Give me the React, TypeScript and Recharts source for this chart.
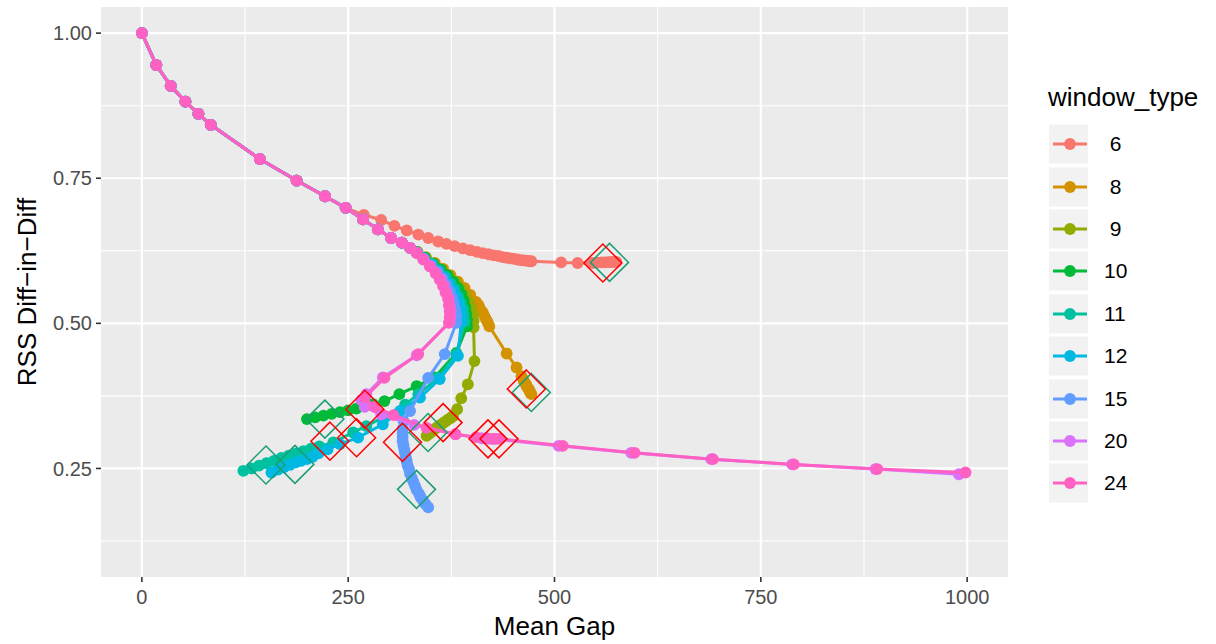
import { ScatterChart, Scatter, XAxis, YAxis, CartesianGrid, Label } from "recharts"

type Pt = [number, number]

const windowTypes = [" 6", " 8", " 9", "10", "11", "12", "15", "20", "24"]
const colors = ["#F8766D", "#D39200", "#93AA00", "#00BA38", "#00C19F", "#00B9E3", "#619CFF", "#DB72FB", "#FF61C3"]

// path every window type shares before they split
const sharedHead: Pt[] = [
  [0, 1.0], [17.5, 0.945], [35, 0.909], [52.8, 0.882], [68.5, 0.861], [83.5, 0.842],
  [143, 0.783], [187.5, 0.746], [222, 0.719], [247, 0.699],
]

const win6: Pt[] = [
  [269, 0.687], [290, 0.678], [306, 0.668], [321, 0.66], [335, 0.653], [347, 0.647], [359, 0.641],
  [369, 0.637], [379, 0.633], [389, 0.629], [398, 0.626], [406, 0.623], [413, 0.621], [420, 0.619],
  [426, 0.617], [432, 0.616], [437, 0.614], [442, 0.613], [447, 0.612], [451, 0.611], [455, 0.61],
  [459, 0.609], [462, 0.6085], [465, 0.608], [468, 0.6075], [470, 0.607], [472, 0.607],
  [508, 0.605], [528, 0.604], [546, 0.604], [552, 0.6045], [557, 0.605], [561, 0.605],
  [565, 0.6055], [568, 0.6055], [571, 0.606], [573, 0.606], [575, 0.606],
]

const win8: Pt[] = [
  [268, 0.679], [286, 0.662], [302, 0.647], [315, 0.639], [325, 0.63],
  [334, 0.623], [344, 0.614], [355, 0.604], [365, 0.594], [374, 0.583], [383, 0.572], [391, 0.561],
  [398, 0.549], [405, 0.537], [408, 0.531], [410, 0.525], [413, 0.519], [415, 0.513], [417, 0.507],
  [419, 0.502], [421, 0.495],
  [442, 0.448], [454, 0.424], [460, 0.409], [462, 0.404], [463, 0.4], [465, 0.396], [466, 0.393],
  [467, 0.39], [469, 0.386], [470, 0.383], [471, 0.38], [472, 0.378],
]

const win9: Pt[] = [
  [268, 0.679], [286, 0.662], [302, 0.647], [315, 0.639], [325, 0.63],
  [334, 0.623], [344, 0.613], [354, 0.603], [363, 0.593], [372, 0.582], [380, 0.571], [387, 0.559],
  [392, 0.548], [396, 0.537], [399, 0.526], [401, 0.515], [402, 0.504], [402, 0.493],
  [403, 0.435], [395, 0.395], [387, 0.371], [382, 0.352], [377, 0.34], [374, 0.337], [371, 0.334],
  [368, 0.331], [365, 0.328], [362, 0.325], [359, 0.322], [356, 0.319], [353, 0.316], [350, 0.312],
  [347, 0.309], [345, 0.306],
]

const win10: Pt[] = [
  [268, 0.679], [286, 0.662], [302, 0.647], [315, 0.639], [325, 0.63],
  [333, 0.623], [343, 0.613], [353, 0.603], [362, 0.593], [370, 0.583], [377, 0.572], [383, 0.561],
  [387, 0.55], [390, 0.539], [392, 0.528], [393, 0.517], [394, 0.506], [394, 0.495],
  [381, 0.449], [355, 0.407], [333, 0.392], [312, 0.378], [294, 0.366], [280, 0.361], [270, 0.357],
  [260, 0.353], [250, 0.35], [240, 0.347], [230, 0.344], [220, 0.341], [210, 0.338], [200, 0.335],
]

const win11: Pt[] = [
  [268, 0.679], [286, 0.662], [302, 0.647], [315, 0.639], [325, 0.63],
  [333, 0.622], [342, 0.612], [352, 0.602], [360, 0.591], [368, 0.58], [374, 0.569], [379, 0.558],
  [383, 0.547], [386, 0.536], [389, 0.525], [390, 0.514], [391, 0.503],
  [381, 0.447], [359, 0.406], [335, 0.378], [319, 0.36], [292, 0.338], [272, 0.323], [256, 0.312],
  [232, 0.295], [215, 0.288], [205, 0.284], [196, 0.28], [187, 0.276], [178, 0.272], [169, 0.268],
  [160, 0.263], [151, 0.259], [142, 0.255], [133, 0.25], [123, 0.246],
]

const win12: Pt[] = [
  [268, 0.679], [286, 0.662], [302, 0.647], [315, 0.639], [325, 0.63],
  [333, 0.622], [342, 0.612], [351, 0.601], [359, 0.59], [366, 0.579], [372, 0.568], [377, 0.557],
  [381, 0.546], [384, 0.535], [386, 0.524], [387, 0.513], [387, 0.502],
  [383, 0.444], [361, 0.404], [337, 0.372], [313, 0.349], [292, 0.326], [262, 0.303], [240, 0.292],
  [225, 0.283], [214, 0.276], [207, 0.27], [200, 0.266], [193, 0.263], [186, 0.26], [179, 0.256],
  [172, 0.252], [165, 0.248], [157, 0.243],
]

const win15: Pt[] = [
  [268, 0.679], [286, 0.662], [302, 0.647], [315, 0.639], [325, 0.63],
  [333, 0.622], [342, 0.611], [350, 0.6], [358, 0.589], [364, 0.578], [369, 0.567], [373, 0.556],
  [376, 0.545], [378, 0.534], [380, 0.523], [381, 0.512], [381, 0.501],
  [367, 0.447], [347, 0.406], [325, 0.349], [317, 0.332], [316, 0.318], [316, 0.311], [316, 0.304],
  [316, 0.297], [317, 0.29], [318, 0.283], [319, 0.276], [320, 0.269], [321, 0.262], [322, 0.255],
  [324, 0.248], [325, 0.241], [327, 0.234], [329, 0.227], [331, 0.22], [333, 0.213], [336, 0.206],
  [338, 0.2], [341, 0.194], [344, 0.188], [347, 0.183],
]

const win20: Pt[] = [
  [268, 0.679], [286, 0.662], [302, 0.647], [315, 0.639], [325, 0.63],
  [333, 0.622], [341, 0.611], [349, 0.599], [356, 0.587], [362, 0.576], [366, 0.565], [369, 0.554],
  [372, 0.543], [373, 0.532], [374, 0.522], [374, 0.512], [373, 0.502],
  [333, 0.445], [292, 0.407], [272, 0.378], [266, 0.368], [270, 0.356], [290, 0.343], [330, 0.325],
  [380, 0.309], [412, 0.302], [420, 0.301], [426, 0.301],
  [505, 0.289], [593, 0.277], [690, 0.266], [788, 0.257], [889, 0.249], [990, 0.24],
]

const win24: Pt[] = [
  [268, 0.679], [286, 0.662], [302, 0.647], [315, 0.639], [325, 0.63],
  [333, 0.621], [341, 0.61], [349, 0.598], [356, 0.586], [361, 0.575], [365, 0.564], [368, 0.553],
  [371, 0.542], [372, 0.531], [373, 0.521], [373, 0.511], [372, 0.501],
  [335, 0.447], [294, 0.406], [270, 0.372], [282, 0.356], [305, 0.342], [345, 0.32], [380, 0.309],
  [405, 0.304], [418, 0.302], [425, 0.301], [430, 0.301], [434, 0.301],
  [510, 0.289], [597, 0.277], [692, 0.266], [790, 0.257], [891, 0.249], [998, 0.243],
]

const seriesTails = [win6, win8, win9, win10, win11, win12, win15, win20, win24]

// highlighted points (open diamonds)
const redMarks: Pt[] = [
  [558.6, 0.604], [465.9, 0.387], [365, 0.329], [270.2, 0.352], [227.9, 0.297],
  [260.2, 0.303], [315.8, 0.295], [419.4, 0.301], [432.7, 0.301],
]
const tealMarks: Pt[] = [
  [566.7, 0.605], [471.9, 0.381], [221.8, 0.335], [150.4, 0.256], [185.5, 0.257],
  [346.8, 0.312], [332.8, 0.214],
]

const xTicks = [0, 250, 500, 750, 1000]
const xMinor = [125, 375, 625, 875]
const yTicks = [0.25, 0.5, 0.75, 1.0]
const yMinor = [0.125, 0.375, 0.625, 0.875]

const FONT = "'Liberation Sans', Arial, sans-serif"

const toObjs = (pts: Pt[]) => pts.map(([x, y]) => ({ x, y }))

const Dot = (color: string) => (p: any) => <circle cx={p.cx} cy={p.cy} r={5.9} fill={color} />

const Diamond = (color: string) => (p: any) => {
  const s = 19
  return (
    <polygon
      points={`${p.cx},${p.cy - s} ${p.cx + s},${p.cy} ${p.cx},${p.cy + s} ${p.cx - s},${p.cy}`}
      fill="none"
      stroke={color}
      strokeWidth={1.5}
    />
  )
}

function LegendBox() {
  return (
    <div style={{ position: "absolute", left: 1048, top: 80, fontFamily: FONT }}>
      <div style={{ fontSize: 26, color: "#000", lineHeight: "34px", marginBottom: 9 }}>window_type</div>
      {windowTypes.map((w, i) => (
        <div key={w} style={{ display: "flex", alignItems: "center", height: 42.4 }}>
          <svg width={41} height={40} style={{ display: "block" }}>
            <rect x={1} y={0.5} width={39} height={39} fill="#F2F2F2" />
            <line x1={5} x2={39} y1={20} y2={20} stroke={colors[i]} strokeWidth={3} />
            <circle cx={22} cy={20} r={5.9} fill={colors[i]} />
          </svg>
          <span style={{ fontSize: 21, whiteSpace: "pre", marginLeft: 15, color: "#000" }}>{w}</span>
        </div>
      ))}
    </div>
  )
}

export default function App() {
  return (
    <div style={{ position: "absolute", left: 0, top: 0, width: 1216, height: 644, background: "#fff" }}>
      <ScatterChart width={1216} height={644} margin={{ top: 7, right: 208, bottom: 0, left: 0 }}>
        <CartesianGrid
          fill="#EBEBEB"
          stroke="#FFFFFF"
          strokeWidth={1.1}
          horizontalValues={yMinor}
          verticalValues={xMinor}
        />
        <CartesianGrid
          stroke="#FFFFFF"
          strokeWidth={2.2}
          horizontalValues={yTicks}
          verticalValues={xTicks}
        />
        <XAxis
          type="number"
          dataKey="x"
          domain={[-49.5, 1049.5]}
          ticks={xTicks}
          height={67}
          axisLine={false}
          tickLine={{ stroke: "#333333", strokeWidth: 1.6 }}
          tickSize={5}
          tickMargin={8}
          tick={{ fill: "#4D4D4D", fontSize: 20, fontFamily: FONT }}
          allowDataOverflow
        >
          <Label
            content={() => (
              <text x={554.5} y={635} textAnchor="middle" fontSize={26} fontFamily={FONT} fill="#000">
                Mean Gap
              </text>
            )}
          />
        </XAxis>
        <YAxis
          type="number"
          dataKey="y"
          domain={[0.063, 1.045]}
          ticks={yTicks}
          width={101}
          axisLine={false}
          tickLine={{ stroke: "#333333", strokeWidth: 1.6 }}
          tickSize={5}
          tickMargin={4}
          tickFormatter={(v: number) => v.toFixed(2)}
          tick={{ fill: "#4D4D4D", fontSize: 20, fontFamily: FONT }}
          allowDataOverflow
        >
          <Label
            content={() => (
              <text
                x={27}
                y={292}
                transform="rotate(-90 27 292)"
                textAnchor="middle"
                dominantBaseline="central"
                fontSize={26}
                fontFamily={FONT}
                fill="#000"
              >
                RSS Diff−in−Diff
              </text>
            )}
          />
        </YAxis>
        {seriesTails.map((tail, i) => (
          <Scatter
            key={windowTypes[i]}
            name={windowTypes[i]}
            data={toObjs([...sharedHead, ...tail])}
            fill={colors[i]}
            line={{ stroke: colors[i], strokeWidth: 3 }}
            lineType="joint"
            shape={Dot(colors[i])}
            isAnimationActive={false}
          />
        ))}
        <Scatter name="teal" data={toObjs(tealMarks)} shape={Diamond("#1B9E77")} legendType="none" isAnimationActive={false} />
        <Scatter name="red" data={toObjs(redMarks)} shape={Diamond("#FF0000")} legendType="none" isAnimationActive={false} />
      </ScatterChart>
      <LegendBox />
    </div>
  )
}
